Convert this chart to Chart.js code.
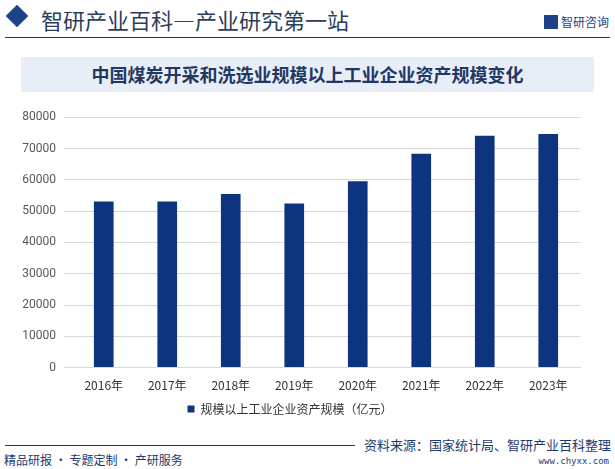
<!DOCTYPE html>
<html lang="zh">
<head>
<meta charset="UTF-8" />
<title>中国煤炭开采和洗选业规模以上工业企业资产规模变化</title>
<script src="https://cdn.jsdelivr.net/npm/chart.js"></script>
<style>
  body { margin: 0; width: 615px; height: 469px; background: #fff; position: relative; overflow: hidden;
         font-family: "Noto Sans CJK SC", "Noto Sans", sans-serif; }
  .diamond { position: absolute; left: 9px; top: 8px; width: 16px; height: 16px; background: #1d4289; transform: rotate(45deg); }
  .site-title { position: absolute; left: 41px; top: 3px; font-size: 22px; color: #2c3e5c; }
  .logo { position: absolute; right: 6px; top: 13px; font-size: 12px; color: #1d4289; }
  .logo i { display: inline-block; width: 14px; height: 14px; background: #1d4289; vertical-align: -2px; margin-right: 3px; }
  .top-line { position: absolute; left: 5px; right: 5px; top: 37px; height: 1px; background: #1d3a6e; }
  .title-box { position: absolute; left: 21px; width: 573px; top: 57px; height: 35px; background: #e8eef7; }
  .title-box span { display: block; text-align: center; line-height: 35px; font-size: 18px; font-weight: bold; color: #1f3864; }
  .chart-wrap { position: absolute; left: 0; top: 102px; width: 615px; height: 323px; }
  .bottom-line { position: absolute; left: 5px; width: 350px; top: 445px; height: 1px; background: #1d3a6e; }
  .slogan { position: absolute; left: 4px; top: 451px; font-size: 12px; color: #1d3a6e; }
  .source { position: absolute; right: 4px; top: 435px; font-size: 13px; color: #1d3a6e; }
  .url { position: absolute; right: 6px; top: 456px; font-size: 9px; color: #1d3a6e; font-family: "DejaVu Sans Mono", monospace; }
</style>
</head>
<body>
  <div class="diamond"></div>
  <div class="site-title">智研产业百科—产业研究第一站</div>
  <div class="logo"><i></i>智研咨询</div>
  <div class="top-line"></div>
  <div class="title-box"><span>中国煤炭开采和洗选业规模以上工业企业资产规模变化</span></div>

  <div class="chart-wrap"><canvas id="assetChart"></canvas></div>

  <div class="bottom-line"></div>
  <div class="slogan">精品研报 · 专题定制 · 产研服务</div>
  <div class="source">资料来源：国家统计局、智研产业百科整理</div>
  <div class="url">www.chyxx.com</div>

<script>
  const years = ['2016年', '2017年', '2018年', '2019年', '2020年', '2021年', '2022年', '2023年'];
  const assets = [53100, 53100, 55500, 52400, 59500, 68300, 74100, 74600];
  const seriesName = '规模以上工业企业资产规模（亿元）';

  const ctx = document.getElementById('assetChart').getContext('2d');
  new Chart(ctx, {
    type: 'bar',
    data: {
      labels: years,
      datasets: [{
        label: seriesName,
        data: assets,
        backgroundColor: '#0e3480',
        barPercentage: 0.31,
        categoryPercentage: 1.0
      }]
    },
    options: {
      responsive: true,
      maintainAspectRatio: false,
      animation: false,
      layout: { padding: { left: 0, right: 35, top: 12, bottom: 0 } },
      plugins: {
        legend: {
          position: 'bottom',
          labels: {
            usePointStyle: true,
            pointStyle: 'rect',
            boxWidth: 7,
            boxHeight: 7,
            padding: 7,
            color: '#333',
            font: { size: 12, family: '"Noto Sans CJK SC", sans-serif' }
          }
        },
        tooltip: { enabled: false }
      },
      scales: {
        x: {
          grid: { display: false },
          border: { color: '#d9d9d9' },
          ticks: { color: '#333', font: { size: 12, family: '"Noto Sans CJK SC", sans-serif' }, padding: 3 }
        },
        y: {
          min: 0,
          max: 80000,
          ticks: { stepSize: 10000, color: '#595959', font: { size: 12, family: 'Roboto, sans-serif' }, padding: 8,
                   callback: v => String(v) },
          grid: { color: '#d9d9d9' },
          border: { display: false },
          afterFit: scale => { scale.width = 72; }
        }
      }
    }
  });
</script>
</body>
</html>
